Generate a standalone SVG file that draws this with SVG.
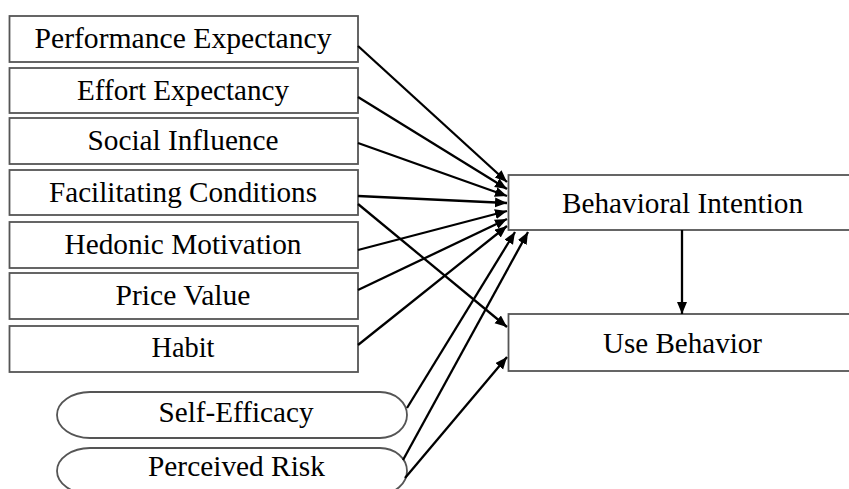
<svg xmlns="http://www.w3.org/2000/svg" width="849" height="489" viewBox="0 0 849 489">
<defs>
<style>
.box{fill:#fff;stroke:#555;stroke-width:1.8}
.lbl{font-family:"Liberation Serif","Times New Roman",serif;font-size:28.5px;fill:#000;text-anchor:middle}
.edge{stroke:#000;stroke-width:2.3;fill:none;marker-end:url(#ah)}
</style>
<marker id="ah" markerUnits="userSpaceOnUse" markerWidth="14" markerHeight="12" refX="12" refY="5" orient="auto">
<path d="M0,0 L12,5 L0,10 Z" fill="#000"/>
</marker>
</defs>
<rect width="849" height="489" fill="#fff"/>
<g id="pe"><rect class="box" x="9.5" y="16" width="348.5" height="46"/><text class="lbl" x="183" y="48" textLength="297" lengthAdjust="spacingAndGlyphs">Performance Expectancy</text></g>
<g id="ee"><rect class="box" x="9.5" y="68" width="348.5" height="45"/><text class="lbl" x="183" y="100" textLength="212" lengthAdjust="spacingAndGlyphs">Effort Expectancy</text></g>
<g id="si"><rect class="box" x="9.5" y="118" width="348.5" height="46"/><text class="lbl" x="183" y="150" textLength="191" lengthAdjust="spacingAndGlyphs">Social Influence</text></g>
<g id="fc"><rect class="box" x="9.5" y="170" width="348.5" height="45"/><text class="lbl" x="183" y="201.5" textLength="268" lengthAdjust="spacingAndGlyphs">Facilitating Conditions</text></g>
<g id="hm"><rect class="box" x="9.5" y="222" width="348.5" height="46"/><text class="lbl" x="183" y="254" textLength="237" lengthAdjust="spacingAndGlyphs">Hedonic Motivation</text></g>
<g id="pv"><rect class="box" x="9.5" y="273" width="348.5" height="46"/><text class="lbl" x="183" y="305" textLength="135" lengthAdjust="spacingAndGlyphs">Price Value</text></g>
<g id="habit"><rect class="box" x="9.5" y="326" width="348.5" height="46"/><text class="lbl" x="183" y="357" textLength="63" lengthAdjust="spacingAndGlyphs">Habit</text></g>
<g id="se"><path class="box" d="M90,392 H380 A27,23 0 0 1 380,438 H90 A33,23 0 0 1 90,392 Z"/><text class="lbl" x="236" y="422" textLength="155" lengthAdjust="spacingAndGlyphs">Self-Efficacy</text></g>
<g id="pr"><path class="box" d="M90,448 H380 A27,23 0 0 1 380,494 H90 A33,23 0 0 1 90,448 Z"/><text class="lbl" x="236.5" y="476" textLength="177" lengthAdjust="spacingAndGlyphs">Perceived Risk</text></g>
<g id="bi"><rect class="box" x="508.5" y="175" width="360" height="55"/><text class="lbl" x="682.5" y="213" textLength="241" lengthAdjust="spacingAndGlyphs">Behavioral Intention</text></g>
<g id="ub"><rect class="box" x="508.5" y="314" width="360" height="57"/><text class="lbl" x="682.5" y="353" textLength="159" lengthAdjust="spacingAndGlyphs">Use Behavior</text></g>
<g id="connectors">
<line class="edge" x1="358" y1="46" x2="507" y2="182"/>
<line class="edge" x1="358" y1="97" x2="507" y2="189"/>
<line class="edge" x1="358" y1="143" x2="507" y2="196"/>
<line class="edge" x1="358" y1="196" x2="507" y2="203"/>
<line class="edge" x1="358" y1="204" x2="507" y2="327"/>
<line class="edge" x1="358" y1="250" x2="507" y2="211"/>
<line class="edge" x1="358" y1="290" x2="507" y2="219"/>
<line class="edge" x1="358" y1="345" x2="507" y2="226"/>
<line class="edge" x1="407" y1="408" x2="515" y2="232"/>
<line class="edge" x1="403" y1="460" x2="528" y2="232"/>
<line class="edge" x1="405" y1="478" x2="507" y2="357"/>
<line class="edge" x1="682" y1="230" x2="682" y2="314"/>
</g>
</svg>
